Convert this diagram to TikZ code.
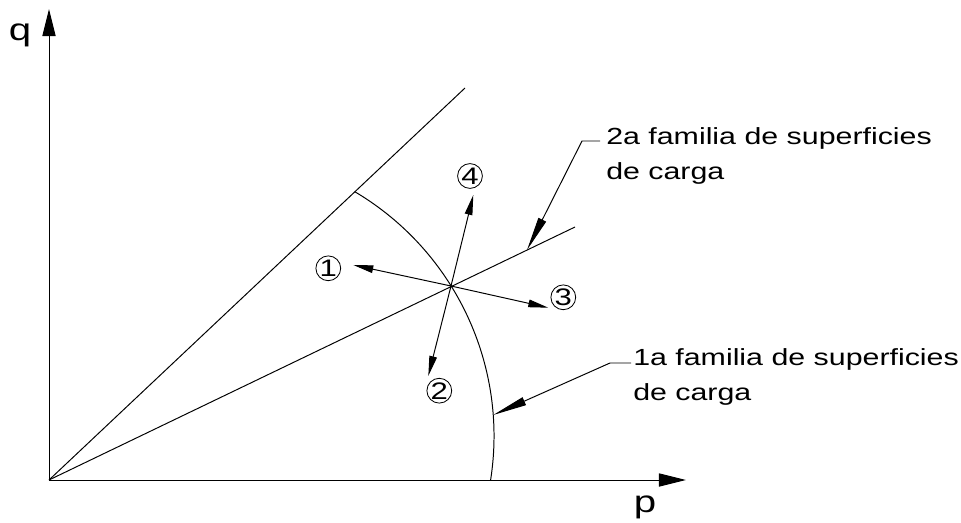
\documentclass[tikz,border=0pt]{standalone}
\usepackage{fontspec}
\setmainfont{Liberation Sans}[FakeStretch=1.3]
\usetikzlibrary{arrows.meta,positioning,calc}

\begin{document}
\begin{tikzpicture}[
  x=0.025cm, y=0.025cm,
  line/.style={line width=0.7pt},
  axisarrow/.style={line, -{Triangle[length=0.68cm, width=0.33cm]}},
  arrow/.style={line, -{Triangle[length=0.5cm, width=0.19cm]}},
  leader/.style={line, -{Triangle[length=0.85cm, width=0.21cm]}},
  circnum/.style={circle, draw, line width=0.6pt, inner sep=0pt, minimum size=0.62cm, font=\fontsize{17}{20}\selectfont},
  note/.style={align=left, inner sep=0pt, anchor=base west, font=\fontsize{16.6}{24.2}\selectfont},
  axislabel/.style={inner sep=0pt, font=\fontsize{22}{26}\selectfont}
]
  \useasboundingbox (0,0) rectangle (961,522);

  \coordinate (O) at (49,42);
  \coordinate (qend) at (49,513);
  \coordinate (pend) at (686,42);
  \coordinate (upper) at (465,434);
  \coordinate (lower) at (575,295);
  \coordinate (P) at (451,236);

  \draw[axisarrow] (O) -- (qend);
  \draw[axisarrow] (O) -- (pend);
  \node[axislabel] (q) at (20,487) {q};
  \node[axislabel] (p) at (645,14.5) {p};

  \draw[line] (O) -- (upper);
  \draw[line] (O) -- (lower);
  \draw[line] (490.6,42) arc[start angle=-8.9, end angle=59.3, radius=7.1cm];

  \node[circnum] (n1) at (328.3,253.7) {1};
  \node[circnum] (n2) at (439.3,131.3) {2};
  \node[circnum] (n3) at (563.3,224.7) {3};
  \node[circnum] (n4) at (470,346) {4};
  \coordinate (t1) at (353.3,257);
  \coordinate (t2) at (428.3,146);
  \coordinate (t3) at (548.3,214.3);
  \coordinate (t4) at (473.3,327);
  \draw[arrow] (P) -- (t1);
  \draw[arrow] (P) -- (t2);
  \draw[arrow] (P) -- (t3);
  \draw[arrow] (P) -- (t4);

  \node[note] (fam2) at (606,343) {2a familia de superficies\\de carga};
  \node[note] (fam1) at (633,122) {1a familia de superficies\\de carga};
  \coordinate (f2start) at (600,381);
  \coordinate (f2bend) at (582,381);
  \coordinate (f2tip) at ($(O)!0.9087!(lower)$);
  \coordinate (f1start) at (631,159);
  \coordinate (f1bend) at (610,159);
  \coordinate (f1tip) at (493.2,107);
  \draw[leader] (f2start) -- (f2bend) -- (f2tip);
  \draw[leader] (f1start) -- (f1bend) -- (f1tip);
\end{tikzpicture}
\end{document}
